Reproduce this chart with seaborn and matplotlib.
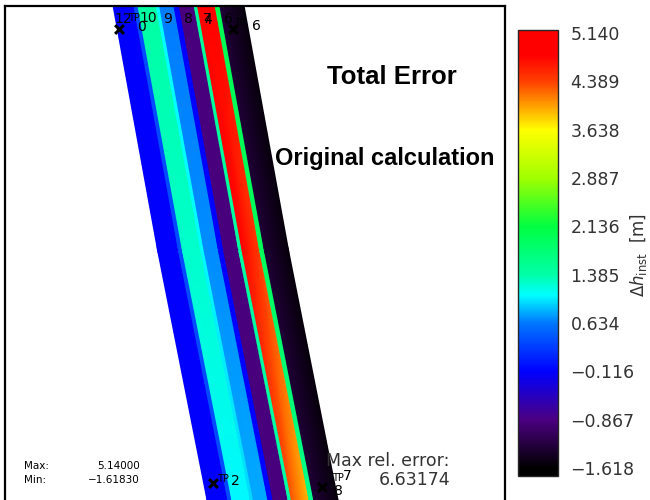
import numpy as np
import matplotlib
matplotlib.use("Agg")
import matplotlib.pyplot as plt
import seaborn as sns
from matplotlib.colors import LinearSegmentedColormap, Normalize
from matplotlib.ticker import FixedLocator

# --- data ---------------------------------------------------------------
# along-track centre line of the strip (map units) and strip width
track_x = [172.5, 218.0, 267.5]
track_y = [500.0, 250.0, 0.0]
strip_width = 131.0

# cross-strip stripe edges (fraction of width)
stripe_edges = [0.0, 0.16, 0.19, 0.33, 0.355, 0.465, 0.505, 0.62, 0.645, 0.78, 0.815, 1.0]

# error per stripe (left value, right value), at top / middle / bottom of the strip
err_top = [(-0.12, -0.12), (0.35, 0.35), (1.45, 1.45), (1.07, 1.07), (0.65, 0.65), (-0.10, -0.10),
           (-0.90, -0.90), (1.50, 1.50), (5.14, 4.80), (2.00, 2.00), (-1.30, -1.55)]
err_mid = [(-0.12, -0.12), (0.35, 0.35), (1.25, 1.25), (1.07, 1.07), (0.70, 0.70), (-0.10, -0.10),
           (-0.90, -0.90), (1.45, 1.45), (4.90, 4.40), (1.95, 1.95), (-1.30, -1.55)]
err_bot = [(-0.12, -0.12), (0.35, 0.35), (1.05, 1.05), (0.95, 0.95), (0.80, 0.80), (-0.10, -0.10),
           (-0.90, -0.90), (1.40, 1.40), (4.30, 3.90), (1.60, 1.60), (-1.30, -1.55)]

# transect points
tp_x = [114, 228, 208, 317]
tp_y = [471, 471, 17, 13]

# colour scale
cbar_ticks = [5.140, 4.389, 3.638, 2.887, 2.136, 1.385, 0.634, -0.116, -0.867, -1.618]
cmap_vals = [-1.742, -1.618, -0.867, -0.116, 0.634, 1.07, 1.385, 2.136, 2.887, 3.638, 4.389, 4.8, 5.187]
cmap_cols = ["#000000", "#000000", "#4b0082", "#0000ff", "#0078ff", "#00ffff", "#00ffa8",
             "#00ff40", "#a0ff00", "#ffff00", "#ff4000", "#ff0000", "#ff0000"]
vmin, vmax = cmap_vals[0], cmap_vals[-1]

err_max, err_min = 5.14000, -1.61830
max_rel_err = 6.63174

# --- figure -------------------------------------------------------------
sns.set_style("white")
plt.rcParams["font.family"] = ["DejaVu Sans"]
plt.rcParams["text.color"] = "black"

fig = plt.figure(figsize=(6.5, 5), dpi=100)
ax = fig.add_axes([5 / 650, 0, 500 / 650, 494 / 500])
ax.set_xlim(0, 500)
ax.set_ylim(0, 494)
ax.set_xticks([])
ax.set_yticks([])
for side in ["left", "top", "right"]:
    ax.spines[side].set_linewidth(1.6)
    ax.spines[side].set_color("black")
ax.spines["bottom"].set_visible(False)

pos = [(v - vmin) / (vmax - vmin) for v in cmap_vals]
cmap = LinearSegmentedColormap.from_list("err", list(zip(pos, cmap_cols)), N=512)
norm = Normalize(vmin=vmin, vmax=vmax)

# mesh: two nodes per stripe so stripes have sharp edges
s_nodes = []
for i in range(len(stripe_edges) - 1):
    s_nodes += [stripe_edges[i], stripe_edges[i + 1]]
s_nodes = np.array(s_nodes)
X = np.array([[cx + (s - 0.5) * strip_width for s in s_nodes] for cx in track_x])
Y = np.array([[cy] * len(s_nodes) for cy in track_y])
C = np.array([[v for pair in row for v in pair] for row in [err_top, err_mid, err_bot]])
mesh = ax.pcolormesh(X, Y, C, cmap=cmap, norm=norm, shading="gouraud", zorder=1)

# transect points and labels
ax.scatter(tp_x, tp_y, marker="x", s=40, c="black", linewidths=2.2, zorder=3)
lab = dict(color="black", fontsize=10, ha="center", va="center", zorder=4)
small = dict(color="black", fontsize=7, ha="center", va="center", zorder=4)
for txt, x, y in [("12", 118, 481), ("10", 143, 482), ("0", 136, 473), ("9", 163, 481),
                  ("8", 183, 481), ("7", 202, 481), ("4", 203, 480), ("6", 223, 481),
                  ("6", 251, 474), ("2", 230, 19), ("7", 342, 24), ("8", 333, 9)]:
    ax.text(x, y, txt, **lab)
for txt, x, y in [("TP", 129, 482), ("TP", 235, 477), ("TP", 218, 21), ("TP", 333, 22)]:
    ax.text(x, y, txt, **small)

# titles
ax.text(387, 423, "Total Error", fontsize=18.5, fontweight="bold", color="black",
        family="Liberation Sans", ha="center", va="center")
ax.text(380, 342, "Original calculation", fontsize=17, fontweight="bold", color="black",
        family="Liberation Sans", ha="center", va="center")

# min / max info
ax.text(19, 34, "Max:", fontsize=7.5, va="center")
ax.text(19, 20, "Min:", fontsize=7.5, va="center")
ax.text(135, 34, f"{err_max:.5f}", fontsize=7.5, va="center", ha="right")
ax.text(135, 20, f"{err_min:.5f}".replace("-", "\u2212"), fontsize=7.5, va="center", ha="right")
ax.text(383, 39, "Max rel. error:", fontsize=12.5, color="#333333", ha="center", va="center")
ax.text(410, 20, f"{max_rel_err:.5f}", fontsize=12.5, color="#333333", ha="center", va="center")

# colour bar
cax = fig.add_axes([518 / 650, 1 - 476 / 500, 40 / 650, 446 / 500])
cb = fig.colorbar(mesh, cax=cax, ticks=cbar_ticks)
cb.set_ticklabels([f"{t:.3f}".replace("-", "\u2212") for t in cbar_ticks])
cb.outline.set_linewidth(1.0)
mids = [(a + b) / 2 for a, b in zip(cbar_ticks[:-1], cbar_ticks[1:])]
cax.yaxis.set_minor_locator(FixedLocator(mids))
cax.tick_params(which="both", direction="in", left=True, right=True, length=5, width=0.8,
                color="#333333")
cax.tick_params(which="major", labelsize=12.5, labelcolor="#333333", pad=9)
fig.text(0.982, 0.49, r"$\Delta h_{\rm inst}$  [m]", rotation=90, fontsize=12,
         color="#333333", ha="center", va="center")

fig.savefig("out.png", dpi=100)
plt.close(fig)
